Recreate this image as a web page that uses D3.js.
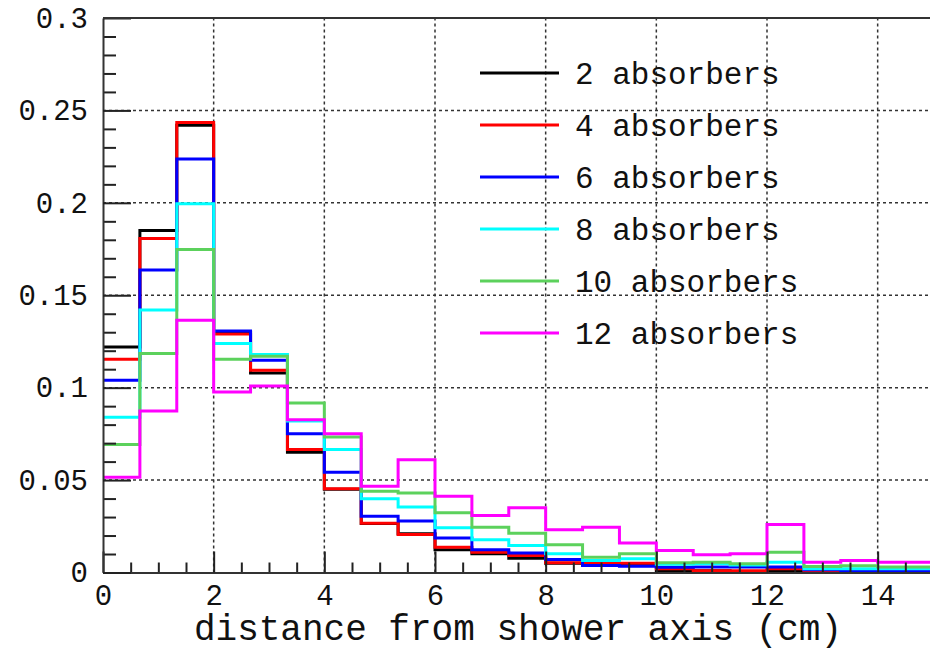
<!DOCTYPE html>
<html lang="en">
<head>
<meta charset="utf-8">
<script src="https://cdn.jsdelivr.net/npm/d3@7"></script>
<style>
  body { margin: 0; background: #fff; }
  svg { display: block; }
  text { font-family: "Courier New", "Nimbus Mono PS", "FreeMono", "Liberation Mono", monospace; fill: #111; }
</style>
</head>
<body>
<svg width="930" height="649"></svg>
<script>

// bin width is 2/3 cm, bins start at 0
var binWidth = 2 / 3;

var seriesNames = ["2 absorbers", "4 absorbers", "6 absorbers", "8 absorbers", "10 absorbers", "12 absorbers"];
var seriesColors = ["#000000", "#ff0000", "#0000ff", "#00ffff", "#5cd15c", "#ff00ff"];

var abs2 = [0.122, 0.185, 0.242, 0.130, 0.108, 0.065, 0.045, 0.0265, 0.021, 0.0123, 0.0101, 0.0077,
            0.005, 0.004, 0.004, 0.001, 0.001, 0.0005, 0.0008, 0.0005, 0.0005, 0.0005, 0.0003];
var abs4 = [0.1154, 0.1807, 0.2434, 0.129, 0.1094, 0.0665, 0.0453, 0.0267, 0.0206, 0.0137, 0.011, 0.0092,
            0.0053, 0.005, 0.005, 0.002, 0.001, 0.001, 0.002, 0.0008, 0.0005, 0.0005, 0.0003];
var abs6 = [0.104, 0.1636, 0.2237, 0.1307, 0.1148, 0.0751, 0.0543, 0.0305, 0.0278, 0.0186, 0.0123, 0.0105,
            0.007, 0.0038, 0.0034, 0.0029, 0.003, 0.003, 0.003, 0.0015, 0.001, 0.0008, 0.0008];
var abs8 = [0.084, 0.142, 0.1995, 0.1239, 0.118, 0.082, 0.0665, 0.0399, 0.0354, 0.0242, 0.0177, 0.0146,
            0.0101, 0.0065, 0.0074, 0.0045, 0.0047, 0.004, 0.0056, 0.002, 0.002, 0.002, 0.002];
var abs10 = [0.0693, 0.1185, 0.1748, 0.1154, 0.117, 0.0917, 0.0733, 0.044, 0.043, 0.0323, 0.0245, 0.0213,
             0.015, 0.0083, 0.0101, 0.0053, 0.0056, 0.0047, 0.011, 0.0032, 0.0036, 0.003, 0.003];
var abs12 = [0.0516, 0.0874, 0.1365, 0.0977, 0.1009, 0.0827, 0.0751, 0.0466, 0.061, 0.0412, 0.0309, 0.035,
             0.0231, 0.0245, 0.0159, 0.0119, 0.0096, 0.0101, 0.026, 0.0056, 0.0065, 0.0056, 0.0056];

var allSeries = [abs2, abs4, abs6, abs8, abs10, abs12];

var xMajor = [0, 2, 4, 6, 8, 10, 12, 14];
var yMajor = [0, 0.05, 0.1, 0.15, 0.2, 0.25, 0.3];
var yLabels = ["0", "0.05", "0.1", "0.15", "0.2", "0.25", "0.3"];

var svg = d3.select("svg");

var x = d3.scaleLinear().domain([0, 15]).range([103, 933]);
var y = d3.scaleLinear().domain([0, 0.3]).range([572.5, 18]);

// dotted grid
var grid = svg.append("g").attr("class", "grid");
grid.selectAll("line.gx")
  .data(xMajor.slice(1))
  .enter().append("line")
    .attr("x1", d => x(d)).attr("x2", d => x(d))
    .attr("y1", y(0)).attr("y2", y(0.3))
    .attr("stroke", "#333").attr("stroke-width", 1.5).attr("stroke-dasharray", "3,3");
grid.selectAll("line.gy")
  .data(yMajor.slice(1, -1))
  .enter().append("line")
    .attr("x1", x(0)).attr("x2", x(15))
    .attr("y1", d => y(d)).attr("y2", d => y(d))
    .attr("stroke", "#333").attr("stroke-width", 1.5).attr("stroke-dasharray", "3,3");

// histograms, drawn as step outlines
var line = d3.line()
  .x(d => x(d[0]))
  .y(d => y(d[1]))
  .curve(d3.curveStepAfter);

allSeries.forEach(function(vals, i) {
  var pts = vals.map((v, j) => [j * binWidth, v]);
  pts.push([vals.length * binWidth, vals[vals.length - 1]]);
  svg.append("path")
    .datum(pts)
    .attr("fill", "none")
    .attr("stroke", seriesColors[i])
    .attr("stroke-width", 3)
    .attr("d", line);
});

// axes
var minorX = d3.range(0, 15.01, 0.5).filter(v => v % 2 !== 0);
var minorY = d3.range(0, 0.3001, 0.01).map(v => +v.toFixed(2)).filter(v => Math.round(v * 100) % 5 !== 0);

svg.append("g")
  .attr("transform", "translate(0," + y(0) + ")")
  .call(d3.axisBottom(x).tickValues(minorX).tickSize(-10).tickFormat(""))
  .call(g => g.select(".domain").remove());

var xAxis = svg.append("g")
  .attr("transform", "translate(0," + y(0) + ")")
  .call(d3.axisBottom(x).tickValues(xMajor).tickSize(-21).tickPadding(12).tickSizeOuter(0).tickFormat(d3.format("d")));

svg.append("g")
  .attr("transform", "translate(" + x(0) + ",0)")
  .call(d3.axisLeft(y).tickValues(minorY).tickSize(-13).tickFormat(""))
  .call(g => g.select(".domain").remove());

var yAxis = svg.append("g")
  .attr("transform", "translate(" + x(0) + ",0)")
  .call(d3.axisLeft(y).tickValues(yMajor).tickSize(-28).tickPadding(15).tickSizeOuter(0)
    .tickFormat((d, i) => yLabels[i]));

svg.selectAll(".tick line").attr("stroke", "#222").attr("stroke-width", 2);
svg.selectAll(".domain").attr("stroke", "#333").attr("stroke-width", 2);
svg.selectAll(".tick text").style("font-size", "29px").attr("fill", "#111");

// top frame line
svg.append("line")
  .attr("x1", x(0)).attr("x2", x(15))
  .attr("y1", y(0.3)).attr("y2", y(0.3))
  .attr("stroke", "#333").attr("stroke-width", 2);

// axis title
svg.append("text")
  .attr("x", (x(0) + x(15)) / 2)
  .attr("y", 640)
  .attr("text-anchor", "middle")
  .style("font-size", "36px")
  .text("distance from shower axis (cm)");

// legend
var legend = svg.append("g").attr("transform", "translate(480,73)");
var item = legend.selectAll("g")
  .data(seriesNames)
  .enter().append("g")
    .attr("transform", (d, i) => "translate(0," + i * 52 + ")");
item.append("line")
  .attr("x1", 0).attr("x2", 79)
  .attr("stroke", (d, i) => seriesColors[i])
  .attr("stroke-width", 3);
item.append("text")
  .attr("x", 95)
  .attr("dy", "0.35em")
  .style("font-size", "31px")
  .text(d => d);

</script>
</body>
</html>
